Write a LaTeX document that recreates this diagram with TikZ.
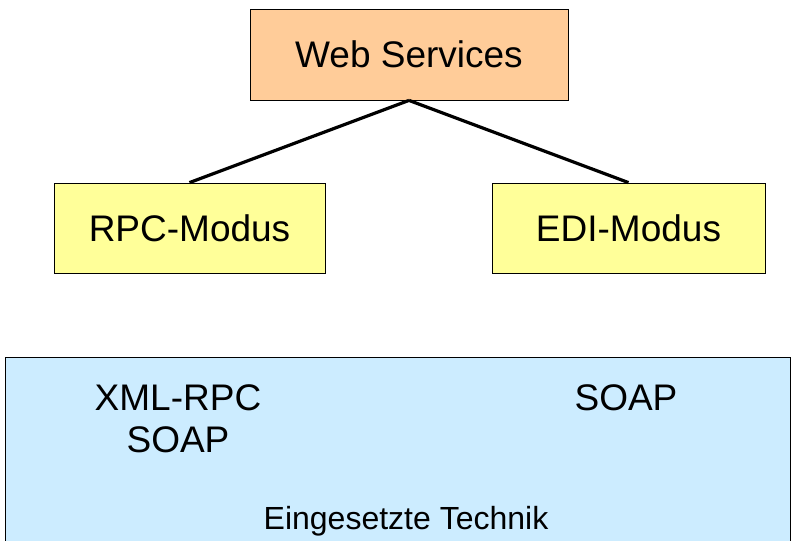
\documentclass[tikz,border=0pt]{standalone}
\usepackage{fontspec}
\setmainfont{Liberation Sans}
\usepackage{tikz}

\begin{document}
\begin{tikzpicture}[x=1pt,y=-1pt,
    kasten/.style={draw=black,line width=0.8pt,inner sep=0pt},
    gross/.style={font=\fontsize{37}{42}\selectfont},
    linie/.style={line width=3.2pt}]
    \useasboundingbox (0,0) rectangle (791,540);
    % Kästen
    \node[kasten,gross,fill={rgb,255:red,255;green,204;blue,153},minimum width=318pt,minimum height=91pt] (web) at (409,54.5)
        {Web Services};
    \node[kasten,gross,fill={rgb,255:red,255;green,255;blue,153},minimum width=271pt,minimum height=90pt] (rpc) at (189.5,228)
        {RPC-Modus};
    \node[kasten,gross,fill={rgb,255:red,255;green,255;blue,153},minimum width=273pt,minimum height=90pt] (edi) at (628.5,228)
        {EDI-Modus};
    % Verbindungen
    \draw[linie] (web.south) -- (rpc.north);
    \draw[linie] (web.south) -- (edi.north);
    % Technik
    \node[kasten,fill={rgb,255:red,204;green,236;blue,255},minimum width=785pt,minimum height=220pt,anchor=north west] (technik) at (5,357) {};
    \node[gross,align=center] (rpctech) at (178,419) {XML-RPC\\SOAP};
    \node[gross] (editech) at (626,398) {SOAP};
    \node[font=\fontsize{32}{36}\selectfont] (label) at (406,521) {Eingesetzte Technik};
\end{tikzpicture}
\end{document}
